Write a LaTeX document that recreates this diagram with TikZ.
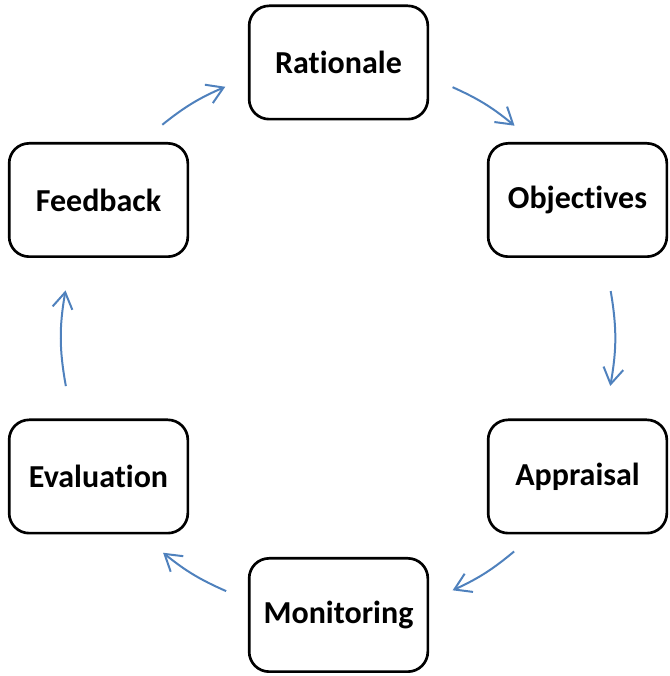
\documentclass[tikz,border=0pt]{standalone}
\usepackage{fontspec}
\setmainfont{Carlito}[Ligatures=NoCommon]
\usetikzlibrary{calc, arrows.meta}
\definecolor{flowblue}{HTML}{4F81BD}

\begin{document}
\begin{tikzpicture}[x=0.75pt, y=0.75pt,
    stage/.style={draw, line width=2pt, rounded corners=15pt,
        minimum width=134pt, minimum height=85pt, outer sep=0pt,
        font=\fontsize{24}{29}\selectfont\bfseries},
    flow/.style={draw=flowblue, line width=1.5pt,
        -{Straight Barb[length=12pt, width=15pt]}}]
\useasboundingbox (0,0) rectangle (670,676);

\node[stage] (rationale) at (338.5,613.5) {Rationale};
\node[stage] (objectives) at (577.5,476) {Objectives};
\node[stage] (appraisal) at (577.5,199.5) {Appraisal};
\node[stage] (monitoring) at (338.5,61) {Monitoring};
\node[stage] (evaluation) at (98.5,199.5) {Evaluation};
\node[stage] (feedback) at (98.5,476) {Feedback};

\coordinate (hub) at ($(rationale)!0.5!(monitoring)$);

% arcs round the hub, clockwise
\foreach \from/\to/\a/\b in {rationale/objectives/24.4/20.3,
    objectives/appraisal/20.2/20.1, appraisal/monitoring/20.5/24.4,
    monitoring/evaluation/24/20.8, evaluation/feedback/20/20,
    feedback/rationale/20.5/24.2}
{
    \pgfmathsetmacro\bend{(60-\a-\b)/2}
    \draw[flow] ($(hub)!1!-\a:(\from)$) to[bend left=\bend] ($(hub)!1!\b:(\to)$);
}
\end{tikzpicture}
\end{document}
